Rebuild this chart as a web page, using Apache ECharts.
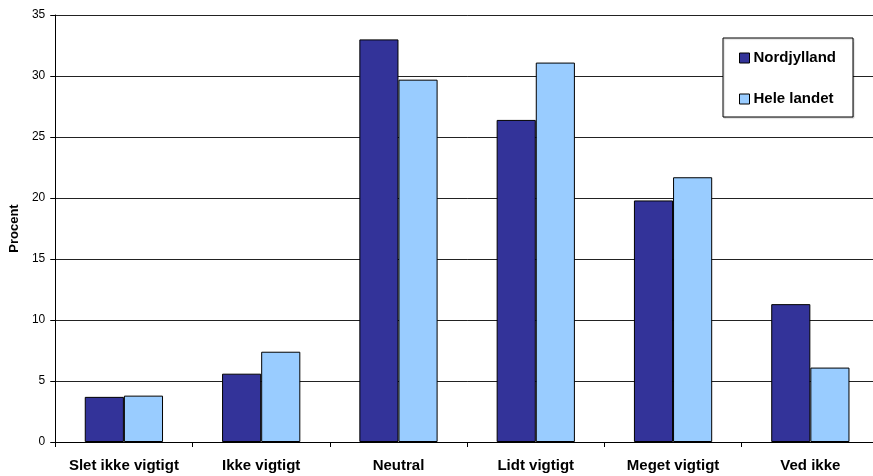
<!DOCTYPE html>
<html>
<head>
<meta charset="utf-8">
<script src="https://cdn.jsdelivr.net/npm/echarts@6/dist/echarts.min.js"></script>
<style>
  html, body { margin: 0; padding: 0; overflow: hidden; background: #fff; }
  #chart { width: 880px; height: 476px; }
</style>
</head>
<body>
<div id="chart"></div>
<script>
// kategorier og værdier (procent)
const categories = ['Slet ikke vigtigt', 'Ikke vigtigt', 'Neutral', 'Lidt vigtigt', 'Meget vigtigt', 'Ved ikke'];
const nordjylland = [3.7, 5.6, 33.0, 26.4, 19.8, 11.3];
const heleLandet = [3.8, 7.4, 29.7, 31.1, 21.7, 6.1];
const seriesNames = ['Nordjylland', 'Hele landet'];

const font = 'Arial, "Liberation Sans", sans-serif';

const myChart = echarts.init(document.getElementById('chart'));

const option = {
  animation: false,
  textStyle: { fontFamily: font },
  grid: {
    left: 55,
    right: 1,
    top: 15,
    bottom: 34
  },
  legend: {
    orient: 'vertical',
    left: 723,
    top: 38,
    padding: [12, 17, 10, 16],
    itemGap: 25,
    itemWidth: 10,
    itemHeight: 10,
    icon: 'rect',
    backgroundColor: '#fff',
    borderColor: '#000',
    borderWidth: 1,
    shadowColor: 'rgba(0,0,0,0.2)',
    shadowOffsetX: 1,
    shadowOffsetY: 1,
    shadowBlur: 1,
    textStyle: {
      fontFamily: font,
      fontSize: 15,
      fontWeight: 'bold',
      color: '#000',
      lineHeight: 16,
      padding: [0, 0, 0, -1]
    },
    itemStyle: { borderColor: '#000', borderWidth: 1 },
    data: seriesNames
  },
  xAxis: {
    type: 'category',
    data: categories,
    axisLine: { lineStyle: { color: '#000', width: 1 } },
    axisTick: { show: true, length: 5, lineStyle: { color: '#000' } },
    axisLabel: {
      interval: 0,
      margin: 16,
      color: '#000',
      fontFamily: font,
      fontSize: 15,
      fontWeight: 'bold'
    }
  },
  yAxis: {
    type: 'value',
    min: 0,
    max: 35,
    interval: 5,
    name: 'Procent',
    nameLocation: 'middle',
    nameGap: 29,
    nameTextStyle: {
      fontFamily: font,
      fontSize: 13,
      fontWeight: 'bold',
      color: '#000'
    },
    axisLine: { show: true, lineStyle: { color: '#000', width: 1 } },
    axisTick: { show: true, length: 5, lineStyle: { color: '#000' } },
    axisLabel: {
      margin: 10,
      color: '#000',
      fontFamily: font,
      fontSize: 12
    },
    splitLine: { show: true, lineStyle: { color: '#222', width: 1 } }
  },
  series: [
    {
      name: seriesNames[0],
      type: 'bar',
      data: nordjylland,
      barGap: '0%',
      barCategoryGap: '43%',
      itemStyle: { color: '#333399', borderColor: '#000', borderWidth: 1 }
    },
    {
      name: seriesNames[1],
      type: 'bar',
      data: heleLandet,
      barGap: '0%',
      barCategoryGap: '43%',
      itemStyle: { color: '#99CCFF', borderColor: '#000', borderWidth: 1 }
    }
  ]
};

myChart.setOption(option);
</script>
</body>
</html>
